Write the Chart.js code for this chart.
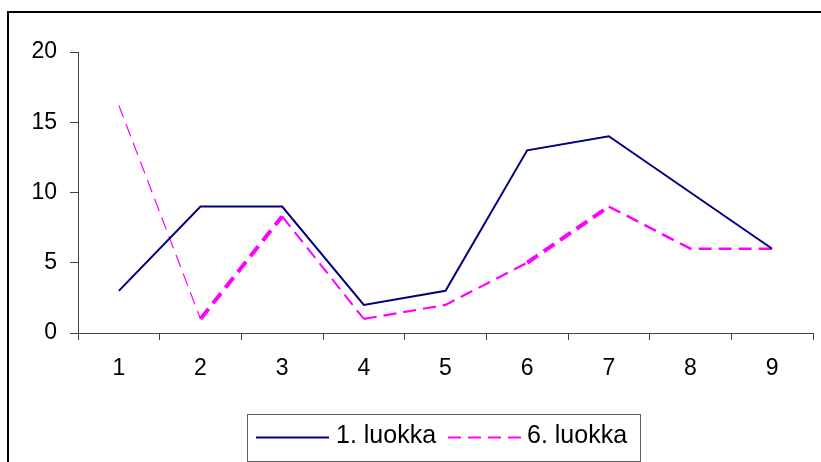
<!DOCTYPE html>
<html>
<head>
<meta charset="utf-8">
<script src="https://cdn.jsdelivr.net/npm/chart.js@4/dist/chart.umd.min.js"></script>
<style>
  html, body { margin: 0; padding: 0; background: #ffffff; }
  #wrap { position: relative; width: 821px; height: 462px; }
</style>
</head>
<body>
<div id="wrap"><canvas id="c" width="821" height="462"></canvas></div>
<script>
const categories = ["1", "2", "3", "4", "5", "6", "7", "8", "9"];
const seriesNames = ["1. luokka", "6. luokka"];
const luokka1 = [3, 9, 9, 2, 3, 13, 14, 10, 6];
const luokka6 = [16.2, 1, 8.3, 1, 2, 5, 9, 6, 6];
const yTicks = [0, 5, 10, 15, 20];

const FONT = "'Liberation Sans', Arial, sans-serif";
const pinkWidths = [1.2, 4, 2, 2.2, 2.2, 4, 2.5, 2.5];

const frameAndLegend = {
  id: 'frameAndLegend',
  afterDraw(chart) {
    const ctx = chart.ctx;
    ctx.save();
    // outer frame (left + top visible)
    ctx.fillStyle = '#000000';
    ctx.fillRect(7, 11, 2, 462);
    ctx.fillRect(7, 11, 821, 2);
    // legend box
    ctx.strokeStyle = '#606060';
    ctx.lineWidth = 1;
    ctx.strokeRect(247.5, 414.5, 393, 47);
    const ds = chart.data.datasets;
    const y = 437.5;
    const items = [
      { x0: 256, x1: 329, tx: 336 },
      { x0: 448, x1: 521, tx: 527 }
    ];
    ctx.font = '25px ' + FONT;
    ctx.textBaseline = 'middle';
    ctx.textAlign = 'left';
    items.forEach((it, i) => {
      const d = ds[i];
      ctx.beginPath();
      ctx.strokeStyle = d.borderColor;
      ctx.lineWidth = 2;
      ctx.setLineDash(i === 1 ? [13, 7] : []);
      ctx.moveTo(it.x0, y);
      ctx.lineTo(it.x1, y);
      ctx.stroke();
      ctx.setLineDash([]);
      ctx.fillStyle = '#000000';
      ctx.fillText(d.label, it.tx, y - 1);
    });
    ctx.restore();
  }
};

new Chart(document.getElementById('c'), {
  type: 'line',
  data: {
    labels: categories,
    datasets: [
      {
        label: seriesNames[0],
        data: luokka1,
        borderColor: '#000080',
        borderWidth: 2,
        pointRadius: 0,
        tension: 0,
        fill: false
      },
      {
        label: seriesNames[1],
        data: luokka6,
        borderColor: '#FF00FF',
        borderWidth: 2,
        borderDash: [13, 7],
        pointRadius: 0,
        tension: 0,
        fill: false,
        segment: {
          borderWidth: c => pinkWidths[c.p0DataIndex]
        }
      }
    ]
  },
  options: {
    responsive: false,
    animation: false,
    devicePixelRatio: 1,
    layout: { padding: { left: 0, right: 8, top: 52, bottom: 79 } },
    plugins: {
      legend: { display: false },
      tooltip: { enabled: false }
    },
    scales: {
      x: {
        offset: true,
        grid: {
          offset: true,
          drawOnChartArea: false,
          drawTicks: true,
          tickLength: 7,
          color: '#404040',
          lineWidth: 1
        },
        border: { display: true, color: '#404040', width: 1 },
        ticks: {
          color: '#000000',
          font: { family: FONT, size: 23, lineHeight: 1.2 },
          padding: 15,
          maxRotation: 0
        },
        afterFit: s => { s.height = 50; }
      },
      y: {
        min: 0,
        max: 20,
        afterBuildTicks: s => { s.ticks = yTicks.map(v => ({ value: v })); },
        grid: {
          drawOnChartArea: false,
          drawTicks: true,
          tickLength: 8,
          color: '#404040',
          lineWidth: 1
        },
        border: { display: true, color: '#404040', width: 1 },
        ticks: {
          color: '#000000',
          font: { family: FONT, size: 23 },
          padding: 13
        },
        afterFit: s => { s.width = 78; }
      }
    }
  },
  plugins: [frameAndLegend]
});
</script>
</body>
</html>
